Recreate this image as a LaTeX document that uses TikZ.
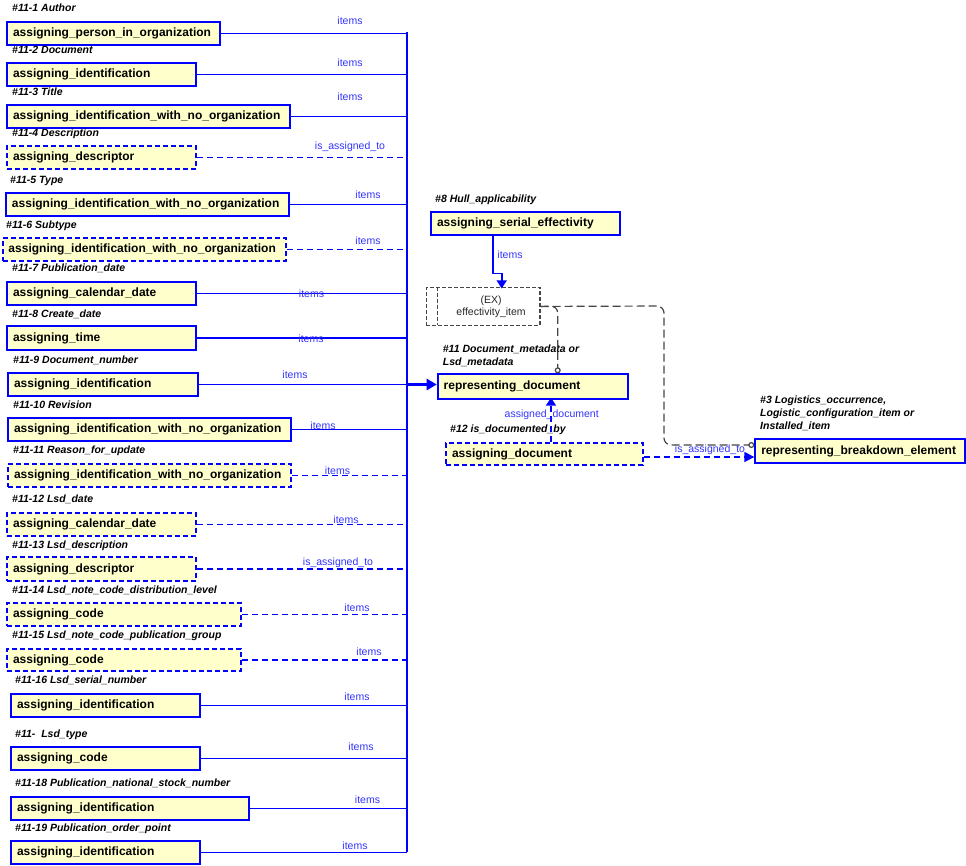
\documentclass[tikz,border=0pt]{standalone}
\usepackage{fontspec}
\setmainfont{Liberation Sans}
\usetikzlibrary{arrows.meta}
\definecolor{bblue}{RGB}{0,0,255}
\definecolor{lblue}{RGB}{51,51,255}
\definecolor{bfill}{RGB}{255,255,204}
\definecolor{dgray}{RGB}{70,70,70}
\begin{document}
\begin{tikzpicture}[x=1pt,y=-1pt,
  box/.style={draw=bblue, fill=bfill, line width=2pt, anchor=north west, inner xsep=6pt, inner ysep=0pt, align=left, font=\fontsize{12}{14}\selectfont\bfseries},
  dbox/.style={box, dash pattern=on 5pt off 3pt},
  lab/.style={anchor=base west, inner sep=0pt, font=\fontsize{10.5}{13}\selectfont\bfseries\itshape},
  mlab/.style={anchor=north west, inner sep=0pt, align=left, font=\fontsize{10.5}{13}\selectfont\bfseries\itshape},
  rlab/.style={inner sep=0pt, text=lblue, font=\fontsize{10.5}{12}\selectfont},
  conn/.style={draw=bblue, line width=1.7pt},
  dconn/.style={conn, dash pattern=on 6pt off 4pt},
  bus/.style={draw=bblue, line width=2.5pt},
  gconn/.style={draw=dgray, line width=1.2pt, dash pattern=on 8pt off 4pt, rounded corners=7pt},
  exbox/.style={draw=dgray, line width=1.2pt, dash pattern=on 4pt off 2pt, anchor=north west, inner xsep=0pt, inner ysep=0pt, align=center, font=\fontsize{10.5}{12}\selectfont, text=black!85},
  tri/.style={-{Triangle[length=8pt,width=10pt]}},
  circ/.style={-{Circle[open,length=6pt,width=6pt,fill=white]}}
]
\useasboundingbox (0,0) rectangle (966,865);

% ---------- left column boxes ----------
\node[box,  text width=201pt, minimum height=23pt] (b1)  at (6,21)   {assigning\_person\_in\_organization};
\node[box,  text width=177pt, minimum height=23pt] (b2)  at (6,62)   {assigning\_identification};
\node[box,  text width=271pt, minimum height=23pt] (b3)  at (6,104)  {assigning\_identification\_with\_no\_organization};
\node[dbox, text width=177pt, minimum height=23pt] (b4)  at (6,145)  {assigning\_descriptor};
\node[box,  text width=271pt, minimum height=23pt] (b5)  at (5,192)  {assigning\_identification\_with\_no\_organization};
\node[dbox, text width=271pt, minimum height=23pt] (b6)  at (1.5,237)  {assigning\_identification\_with\_no\_organization};
\node[box,  text width=177pt, minimum height=23pt] (b7)  at (6,281)  {assigning\_calendar\_date};
\node[box,  text width=177pt, minimum height=24pt] (b8)  at (6,325)  {assigning\_time};
\node[box,  text width=178pt, minimum height=23pt] (b9)  at (7,372)  {assigning\_identification};
\node[box,  text width=271pt, minimum height=23pt] (b10) at (7,417)  {assigning\_identification\_with\_no\_organization};
\node[dbox, text width=271pt, minimum height=23pt] (b11) at (7,463)  {assigning\_identification\_with\_no\_organization};
\node[dbox, text width=177pt, minimum height=23pt] (b12) at (6,512)  {assigning\_calendar\_date};
\node[dbox, text width=177pt, minimum height=24pt] (b13) at (6,556)  {assigning\_descriptor};
\node[dbox, text width=222pt, minimum height=23pt] (b14) at (6,602)  {assigning\_code};
\node[dbox, text width=222pt, minimum height=22pt] (b15) at (6,648)  {assigning\_code};
\node[box,  text width=177pt, minimum height=23pt] (b16) at (10,693) {assigning\_identification};
\node[box,  text width=177pt, minimum height=23pt] (b17) at (10,746) {assigning\_code};
\node[box,  text width=226pt, minimum height=23pt] (b18) at (10,796) {assigning\_identification};
\node[box,  text width=177pt, minimum height=23pt] (b19) at (10,840) {assigning\_identification};

% ---------- left column labels ----------
\node[lab] (l1)  at (12,11)    {\#11-1 Author};
\node[lab] (l2)  at (12,53)    {\#11-2 Document};
\node[lab] (l3)  at (12,95)    {\#11-3 Title};
\node[lab] (l4)  at (12,136.5) {\#11-4 Description};
\node[lab] (l5)  at (10,183)   {\#11-5 Type};
\node[lab] (l6)  at (6,228)    {\#11-6 Subtype};
\node[lab] (l7)  at (12,271.5) {\#11-7 Publication\_date};
\node[lab] (l8)  at (12,317)   {\#11-8 Create\_date};
\node[lab] (l9)  at (13,363)   {\#11-9 Document\_number};
\node[lab] (l10) at (13,408)   {\#11-10 Revision};
\node[lab] (l11) at (13,453.5) {\#11-11 Reason\_for\_update};
\node[lab] (l12) at (12,502)   {\#11-12 Lsd\_date};
\node[lab] (l13) at (12,548)   {\#11-13 Lsd\_description};
\node[lab] (l14) at (12,593)   {\#11-14 Lsd\_note\_code\_distribution\_level};
\node[lab] (l15) at (12,638.5) {\#11-15 Lsd\_note\_code\_publication\_group};
\node[lab] (l16) at (15,683.5) {\#11-16 Lsd\_serial\_number};
\node[lab] (l17) at (15,737)   {\#11-\ \ Lsd\_type};
\node[lab] (l18) at (15,786)   {\#11-18 Publication\_national\_stock\_number};
\node[lab] (l19) at (15,831)   {\#11-19 Publication\_order\_point};

% ---------- right part nodes ----------
\node[lab] (l8h) at (435,202) {\#8 Hull\_applicability};
\node[box, text width=177pt, minimum height=23pt] (sef) at (430,211) {assigning\_serial\_effectivity};
\node[exbox, text width=113.6pt, minimum height=38.3pt] (ex) at (425.7,286.7) {\hspace*{16pt}(EX)\\\hspace*{16pt}effectivity\_item};
\draw[draw=dgray, line width=1.2pt, dash pattern=on 4pt off 2pt] (ex.north west) ++(11.6,0) -- ++(0,38.3);

\node[mlab] (l11d) at (442.7,344.5) {\#11 Document\_metadata or\\Lsd\_metadata};
\node[box, text width=178pt, minimum height=24.4pt] (repdoc) at (436.7,373.3) {representing\_document};

\node[lab] (l12d) at (450,432) {\#12 is\_documented\_by};
\node[dbox, text width=184.7pt, minimum height=22.6pt] (ad) at (445,441.7) {assigning\_document};

\node[mlab] (l3r) at (760,395.5) {\#3 Logistics\_occurrence,\\Logistic\_configuration\_item or\\Installed\_item};
\node[box, text width=198pt, minimum height=23.4pt] (rbe) at (754.3,438.3) {representing\_breakdown\_element};

% ---------- bus ----------
\coordinate (bustop) at (407,32);
\coordinate (busbot) at (407,852);
\draw[bus] (bustop) -- (busbot);

\foreach \b in {b1,b2,b3,b5,b7,b8,b9,b10,b16,b17,b18,b19}{
  \draw[conn] (\b.east) -- (\b.east -| bustop);
}
\foreach \b in {b4,b6,b11,b12,b13,b14,b15}{
  \draw[dconn] (\b.east) -- (\b.east -| bustop);
}

% thick connector to representing_document
\draw[draw=bblue, line width=3.5pt, -{Triangle[length=10pt,width=11pt]}] (b9.east -| bustop) -- (b9.east -| repdoc.west);

% ---------- connector labels ----------
\node[rlab] (i1)  at (350,21)    {items};
\node[rlab] (i2)  at (350,63)    {items};
\node[rlab] (i3)  at (350,97)    {items};
\node[rlab] (i4)  at (350,147)   {is\_assigned\_to};
\node[rlab] (i5)  at (368,195)   {items};
\node[rlab] (i6)  at (368,241)   {items};
\node[rlab] (i7)  at (311.5,294) {items};
\node[rlab] (i8)  at (311,339)   {items};
\node[rlab] (i9)  at (295,374.7) {items};
\node[rlab] (i10) at (323,426)   {items};
\node[rlab] (i11) at (337.5,470.7) {items};
\node[rlab] (i12) at (346,520)   {items};
\node[rlab] (i13) at (338,562.7) {is\_assigned\_to};
\node[rlab] (i14) at (357,608)   {items};
\node[rlab] (i15) at (369,651.7) {items};
\node[rlab] (i16) at (357,696.7) {items};
\node[rlab] (i17) at (361,747)   {items};
\node[rlab] (i18) at (367.5,800) {items};
\node[rlab] (i19) at (355,846)   {items};

% ---------- right connectors ----------
\draw[conn, tri] (sef.south west) ++(62.7,0) -- ++(0,37.4) -- ++(9,0) -- ++(0,15);
\node[rlab] (isef) at (510,254.3) {items};

\draw[dconn, tri] (ad.north west) ++(106,0) -- ++(0,-44);
\node[rlab] (iad) at (551.7,415) {assigned\_document};

\draw[dconn, -{Triangle[length=10pt,width=10pt]}] (ad.east) ++(0,3) coordinate (q) -- (q -| rbe.west);
\node[rlab] (irbe) at (710,449.3) {is\_assigned\_to};

\coordinate (g1) at (557.7,306);
\coordinate (g2) at (664,306);
\coordinate (g3) at (664,445);
\draw[gconn, circ] (ex.east) -- (g2) -- (g3) -- (g3 -| rbe.west);
\draw[gconn, circ] (ex.east) -- (g1) -- (g1 |- repdoc.north);
\end{tikzpicture}
\end{document}
